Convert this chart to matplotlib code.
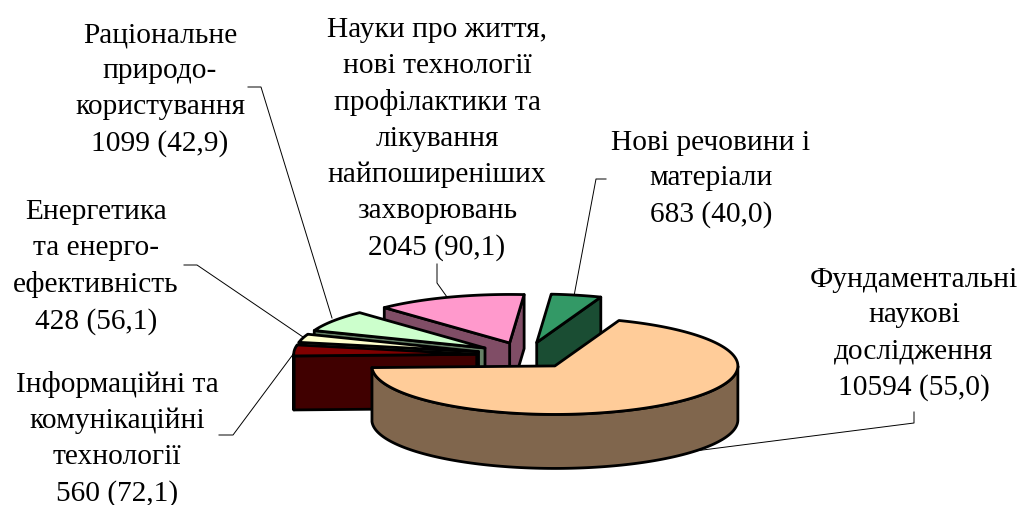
import numpy as np
import matplotlib
matplotlib.use("Agg")
import matplotlib.pyplot as plt
from matplotlib.patches import Polygon

# ========== DATA ==========
# clockwise from the big slice
values = [10594, 560, 428, 1099, 2045, 683]
percents = ["55,0", "72,1", "56,1", "42,9", "90,1", "40,0"]
names = [
    "Фундаментальні\nнаукові\nдослідження",
    "Інформаційні та\nкомунікаційні\nтехнології",
    "Енергетика\nта енерго-\nефективність",
    "Раціональне\nприродо-\nкористування",
    "Науки про життя,\nнові технології\nпрофілактики та\nлікування\nнайпоширеніших\nзахворювань",
    "Нові речовини і\nматеріали",
]
top_colors = ["#FFCC99", "#800000", "#FFFFCC", "#CCFFCC", "#FF99CC", "#339966"]

# ========== GEOMETRY ==========
CX, CY = 526, 356.3
RX, RY = 183, 48.5
DEPTH = 54
EXPLODE = 0.27
START = 69.5   # first slice starts here, goes clockwise

label_pos = [(914, 334), (117, 439), (96, 267), (160, 90), (437, 139), (711, 179)]
leaders = [
    [(914, 413), (914, 424), (640, 459)],
    [(219, 436), (233, 436), (297, 350)],
    [(184, 266), (197, 266), (303, 338)],
    [(248, 88), (261, 88), (332, 319)],
    [(437, 265), (437, 284), (447, 298)],
    [(606, 180), (596, 180), (574, 297)],
]


def darker(hex_color):
    r, g, b = matplotlib.colors.to_rgb(hex_color)
    return (r * 0.5, g * 0.5, b * 0.5)


fig = plt.figure(figsize=(10.26, 5.06), dpi=100)
ax = fig.add_axes([0, 0, 1, 1])
ax.set_xlim(0, 1026)
ax.set_ylim(506, 0)
ax.axis("off")

# leader lines go under the pie
for pts in leaders:
    xs, ys = zip(*pts)
    ax.plot(xs, ys, color="black", lw=0.7, zorder=1)

# ========== SLICES ==========
spans = np.array(values) / sum(values) * 360
ends = START - np.concatenate([[0], np.cumsum(spans)[:-1]])
starts = ends - spans
mids = (starts + ends) / 2
order = np.argsort(-np.sin(np.radians(mids)))

z = 2
for i in order:
    a1, a2, am = starts[i], ends[i], np.radians(mids[i])
    ox = CX + EXPLODE * RX * np.cos(am)
    oy = CY - EXPLODE * RY * np.sin(am)
    t = np.radians(np.linspace(a1, a2, 200))
    px = ox + RX * np.cos(t)
    py = oy - RY * np.sin(t)
    side = darker(top_colors[i])
    style = dict(facecolor=side, edgecolor="black", lw=2, joinstyle="round")

    # flat cut faces, only those turned to the viewer
    for a, normal in ((a1, a1 - 90), (a2, a2 + 90)):
        if np.sin(np.radians(normal)) < 0:
            ex = ox + RX * np.cos(np.radians(a))
            ey = oy - RY * np.sin(np.radians(a))
            ax.add_patch(Polygon([(ox, oy), (ex, ey), (ex, ey + DEPTH), (ox, oy + DEPTH)],
                                 zorder=z, **style))
            z += 1

    # outer wall
    front = np.sin(t) < 0
    if front.any():
        wx, wy = px[front], py[front]
        ax.add_patch(Polygon(np.column_stack([np.r_[wx, wx[::-1]], np.r_[wy, wy[::-1] + DEPTH]]),
                             zorder=z, **style))
        z += 1

    # top
    ax.add_patch(Polygon(np.column_stack([np.r_[ox, px], np.r_[oy, py]]), facecolor=top_colors[i],
                         edgecolor="black", lw=2, joinstyle="round", zorder=z))
    z += 1

# ========== LABELS ==========
for name, val, pct, (x, y) in zip(names, values, percents, label_pos):
    ax.text(x, y, f"{name}\n{val} ({pct})", ha="center", va="center", multialignment="center",
            family="Liberation Serif", fontsize=21.2, linespacing=1.49, color="black", zorder=50)

fig.savefig("out.png", dpi=100)
